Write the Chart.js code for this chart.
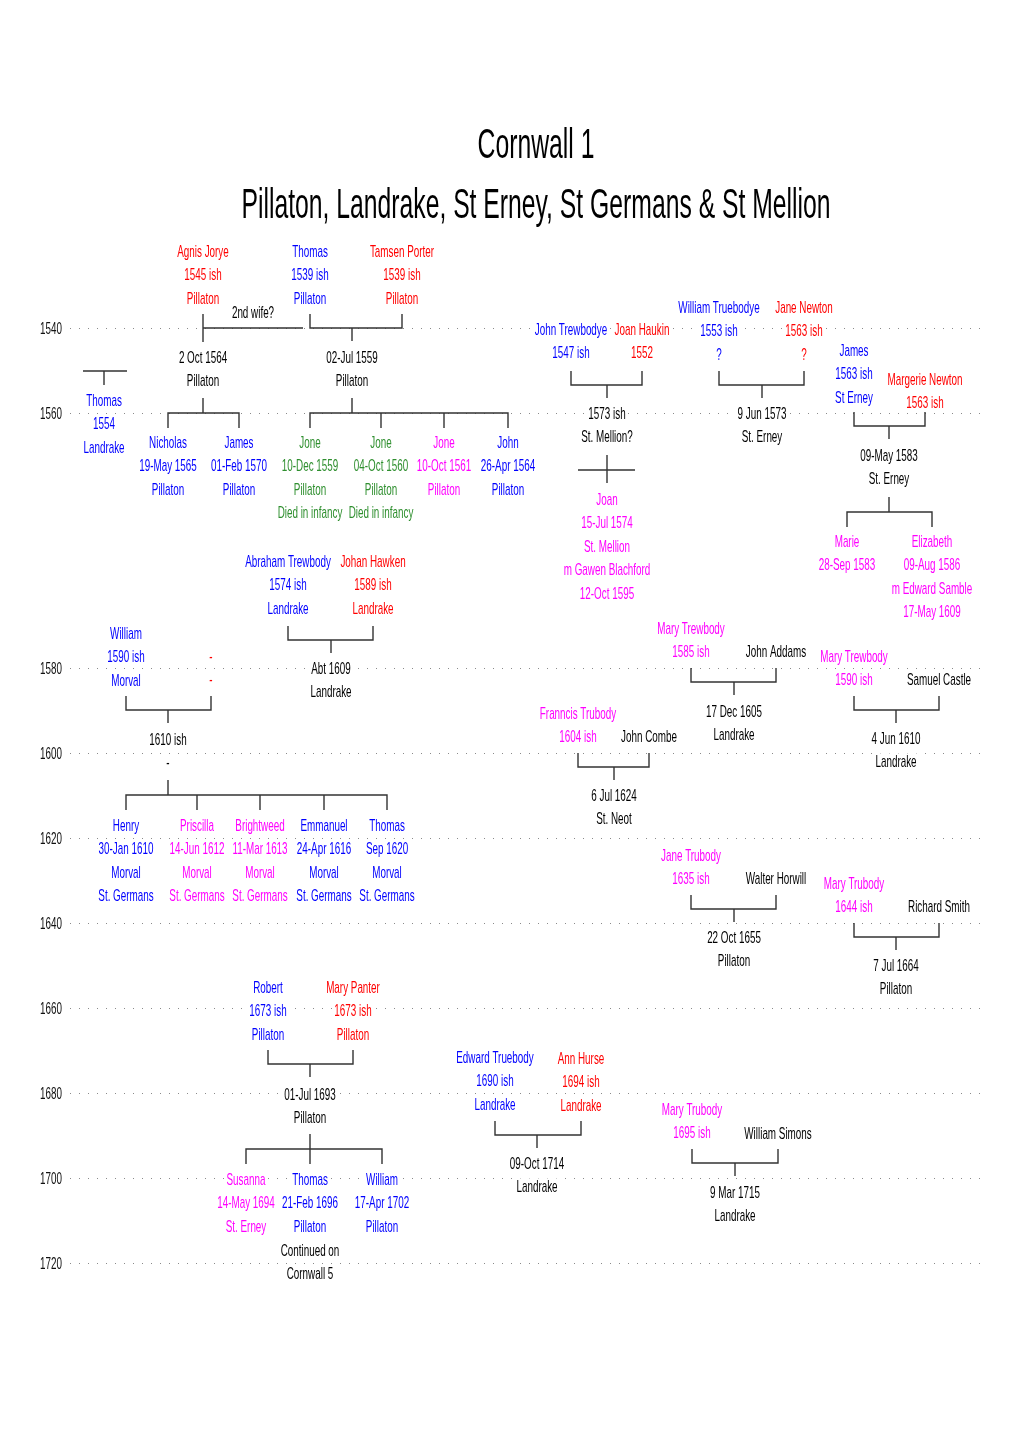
<!DOCTYPE html>
<html>
<head>
<meta charset="utf-8">
<script src="https://cdn.jsdelivr.net/npm/chart.js@4.4.0/dist/chart.umd.min.js"></script>
<style>
  html, body { margin: 0; padding: 0; background: #fff; }
  #wrap { width: 1020px; height: 1443px; }
</style>
</head>
<body>
<div id="wrap"><canvas id="tree"></canvas></div>
<script>
// layout units: x = column position, y = row position on the sheet
const titleLines = ['Cornwall 1', 'Pillaton, Landrake, St Erney, St Germans & St Mellion'];
const titleRows = [143, 203];
const gridRows = [328, 413, 668, 753, 838, 923, 1008, 1093, 1178, 1263];
const yearLabels = ['1540', '1560', '1580', '1600', '1620', '1640', '1660', '1680', '1700', '1720'];

// [x, first row, kind, lines]
const people = [
    [203, 251, 'wife', ['Agnis Jorye', '1545 ish', 'Pillaton']],
    [310, 251, 'male', ['Thomas', '1539 ish', 'Pillaton']],
    [402, 251, 'wife', ['Tamsen Porter', '1539 ish', 'Pillaton']],
    [253, 312, 'other', ['2nd wife?']],
    [104, 400, 'male', ['Thomas', '1554', 'Landrake']],
    [168, 442, 'male', ['Nicholas', '19-May 1565', 'Pillaton']],
    [239, 442, 'male', ['James', '01-Feb 1570', 'Pillaton']],
    [310, 442, 'infant', ['Jone', '10-Dec 1559', 'Pillaton', 'Died in infancy']],
    [381, 442, 'infant', ['Jone', '04-Oct 1560', 'Pillaton', 'Died in infancy']],
    [444, 442, 'daughter', ['Jone', '10-Oct 1561', 'Pillaton']],
    [508, 442, 'male', ['John', '26-Apr 1564', 'Pillaton']],
    [571, 329, 'male', ['John Trewbodye', '1547 ish']],
    [642, 329, 'wife', ['Joan Haukin', '1552']],
    [607, 499, 'daughter', ['Joan', '15-Jul 1574', 'St. Mellion', 'm Gawen Blachford', '12-Oct 1595']],
    [719, 307, 'male', ['William Truebodye', '1553 ish', '?']],
    [804, 307, 'wife', ['Jane Newton', '1563 ish', '?']],
    [854, 350, 'male', ['James', '1563 ish', 'St Erney']],
    [925, 379, 'wife', ['Margerie Newton', '1563 ish']],
    [847, 541, 'daughter', ['Marie', '28-Sep 1583']],
    [932, 541, 'daughter', ['Elizabeth', '09-Aug 1586', 'm Edward Samble', '17-May 1609']],
    [288, 561, 'male', ['Abraham Trewbody', '1574 ish', 'Landrake']],
    [373, 561, 'wife', ['Johan Hawken', '1589 ish', 'Landrake']],
    [126, 633, 'male', ['William', '1590 ish', 'Morval']],
    [211, 656, 'wife', ['-', '-']],
    [126, 825, 'male', ['Henry', '30-Jan 1610', 'Morval', 'St. Germans']],
    [197, 825, 'daughter', ['Priscilla', '14-Jun 1612', 'Morval', 'St. Germans']],
    [260, 825, 'daughter', ['Brightweed', '11-Mar 1613', 'Morval', 'St. Germans']],
    [324, 825, 'male', ['Emmanuel', '24-Apr 1616', 'Morval', 'St. Germans']],
    [387, 825, 'male', ['Thomas', 'Sep 1620', 'Morval', 'St. Germans']],
    [691, 628, 'daughter', ['Mary Trewbody', '1585 ish']],
    [776, 651, 'other', ['John Addams']],
    [854, 656, 'daughter', ['Mary Trewbody', '1590 ish']],
    [939, 679, 'other', ['Samuel Castle']],
    [578, 713, 'daughter', ['Franncis Trubody', '1604 ish']],
    [649, 736, 'other', ['John Combe']],
    [691, 855, 'daughter', ['Jane Trubody', '1635 ish']],
    [776, 878, 'other', ['Walter Horwill']],
    [854, 883, 'daughter', ['Mary Trubody', '1644 ish']],
    [939, 906, 'other', ['Richard Smith']],
    [268, 987, 'male', ['Robert', '1673 ish', 'Pillaton']],
    [353, 987, 'wife', ['Mary Panter', '1673 ish', 'Pillaton']],
    [246, 1179, 'daughter', ['Susanna', '14-May 1694', 'St. Erney']],
    [310, 1179, 'male', ['Thomas', '21-Feb 1696', 'Pillaton']],
    [382, 1179, 'male', ['William', '17-Apr 1702', 'Pillaton']],
    [310, 1250, 'other', ['Continued on', 'Cornwall 5']],
    [495, 1057, 'male', ['Edward Truebody', '1690 ish', 'Landrake']],
    [581, 1058, 'wife', ['Ann Hurse', '1694 ish', 'Landrake']],
    [692, 1109, 'daughter', ['Mary Trubody', '1695 ish']],
    [778, 1133, 'other', ['William Simons']],
];

// [x, first row, lines]
const marriages = [
    [203, 357, ['2 Oct 1564', 'Pillaton']],
    [352, 357, ['02-Jul 1559', 'Pillaton']],
    [607, 413, ['1573 ish', 'St. Mellion?']],
    [762, 413, ['9 Jun 1573', 'St. Erney']],
    [889, 455, ['09-May 1583', 'St. Erney']],
    [331, 668, ['Abt 1609', 'Landrake']],
    [168, 739, ['1610 ish', '-']],
    [734, 711, ['17 Dec 1605', 'Landrake']],
    [896, 738, ['4 Jun 1610', 'Landrake']],
    [614, 795, ['6 Jul 1624', 'St. Neot']],
    [734, 937, ['22 Oct 1655', 'Pillaton']],
    [896, 965, ['7 Jul 1664', 'Pillaton']],
    [310, 1094, ['01-Jul 1693', 'Pillaton']],
    [537, 1163, ['09-Oct 1714', 'Landrake']],
    [735, 1192, ['9 Mar 1715', 'Landrake']],
];

// [left, right, bar row, stem x]
const couples = [
    [310, 402, 328, 352],
    [571, 642, 385, 607],
    [719, 804, 385, 762],
    [854, 925, 426, 889],
    [288, 373, 640, 331],
    [126, 211, 710, 168],
    [691, 776, 682, 734],
    [854, 939, 710, 896],
    [578, 649, 767, 614],
    [691, 776, 909, 734],
    [854, 939, 937, 896],
    [268, 353, 1064, 310],
    [495, 581, 1135, 537],
    [692, 778, 1163, 735],
];

// [stem x, bar row, children x]
const sibships = [
    [203, 413, [168, 239]],
    [352, 413, [310, 381, 444, 508]],
    [889, 512, [847, 932]],
    [168, 795, [126, 197, 260, 324, 387]],
    [310, 1149, [246, 310, 382]],
];

// odd links: 2nd wife, lone Thomas, Joan's cross
const extraLines = [
    [[203, 314], [203, 342]],
    [[203, 328], [303, 328]],
    [[83, 371], [127, 371]],
    [[104, 371], [104, 385]],
    [[578, 470], [635, 470]],
    [[607, 455], [607, 483]],
];

const kindColors = { male: '#0000ff', wife: '#ff0000', daughter: '#ff00ff', infant: '#2f8f2f', other: '#000000' };
const ROW = 23.4;
const FONT = '17px "Liberation Sans", Arial, sans-serif';
const SQUEEZE = 0.58;

// build the connector polylines, broken with null points
const segs = [];
const addLine = pts => {
    pts.forEach(([x, y]) => segs.push({ x, y }));
    segs.push({ x: null, y: null });
};
couples.forEach(([l, r, bar, stem]) => {
    addLine([[l, bar - 14], [l, bar], [r, bar], [r, bar - 14]]);
    addLine([[stem, bar], [stem, bar + 13]]);
});
sibships.forEach(([stem, bar, kids]) => {
    const lo = Math.min(...kids), hi = Math.max(...kids);
    addLine([[stem, bar - 15], [stem, bar]]);
    addLine([[lo, bar + 15], [lo, bar], [hi, bar], [hi, bar + 15]]);
    kids.filter(k => k !== lo && k !== hi).forEach(k => addLine([[k, bar], [k, bar + 15]]));
});
extraLines.forEach(addLine);

const drawLabel = (ctx, text, px, py, color, font, sx, capOffset, align = 'center', blank = true) => {
    ctx.font = font;
    const w = ctx.measureText(text).width * sx;
    if (blank) {
        ctx.fillStyle = '#fff';
        const left = align === 'center' ? px - w / 2 : px - w;
        ctx.fillRect(left - 2, py - 8, w + 4, 16);
    }
    ctx.save();
    ctx.translate(px, py + capOffset);
    ctx.scale(sx, 1);
    ctx.fillStyle = color;
    ctx.textAlign = align;
    ctx.textBaseline = 'alphabetic';
    ctx.fillText(text, 0, 0);
    ctx.restore();
};

const treeText = {
    id: 'treeText',
    afterDraw(chart) {
        const { ctx, scales: { x, y } } = chart;
        ctx.save();
        titleLines.forEach((t, i) => {
            drawLabel(ctx, t, x.getPixelForValue(536), y.getPixelForValue(titleRows[i]), '#000',
                '43px "Liberation Sans", Arial, sans-serif', 0.575, 15, 'center', false);
        });
        y.ticks.forEach((tk, i) => {
            drawLabel(ctx, yearLabels[i], 62, y.getPixelForValue(tk.value), '#111', FONT, SQUEEZE, 6, 'right', false);
        });
        people.forEach(([px, py, kind, lines]) => {
            lines.forEach((t, i) => drawLabel(ctx, t, x.getPixelForValue(px), y.getPixelForValue(py + i * ROW),
                kindColors[kind], FONT, SQUEEZE, 6));
        });
        marriages.forEach(([px, py, lines]) => {
            lines.forEach((t, i) => drawLabel(ctx, t, x.getPixelForValue(px), y.getPixelForValue(py + i * ROW),
                kindColors.other, FONT, SQUEEZE, 6));
        });
        ctx.restore();
    }
};

new Chart(document.getElementById('tree'), {
    type: 'scatter',
    data: {
        datasets: [{
            data: segs,
            showLine: true,
            borderColor: '#333333',
            borderWidth: 1.4,
            pointRadius: 0,
            pointHoverRadius: 0,
            tension: 0,
        }]
    },
    options: {
        responsive: true,
        maintainAspectRatio: false,
        animation: false,
        events: [],
        layout: { padding: { left: 0, right: 38, top: 0, bottom: 0 } },
        plugins: { legend: { display: false }, tooltip: { enabled: false }, title: { display: false } },
        scales: {
            x: { type: 'linear', min: 70, max: 982, display: false },
            y: {
                type: 'linear', min: 0, max: 1443, reverse: true, position: 'left',
                afterFit: s => { s.width = 70; },
                afterBuildTicks: s => { s.ticks = gridRows.map(v => ({ value: v })); },
                ticks: { display: false },
                grid: { color: '#8a8a8a', lineWidth: 1, drawTicks: false },
                border: { display: false, dash: [1, 8] },
            }
        }
    },
    plugins: [treeText]
});
</script>
</body>
</html>
